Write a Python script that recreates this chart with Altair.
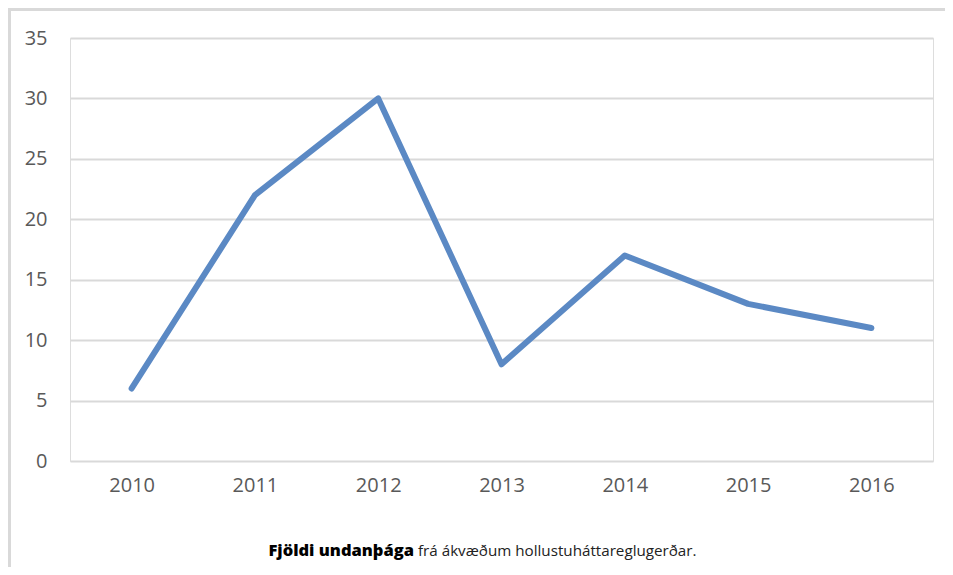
import altair as alt
import pandas as pd

years = ["2010", "2011", "2012", "2013", "2014", "2015", "2016"]
values = [6, 22, 30, 8, 17, 13, 11]
y_ticks = [0, 5, 10, 15, 20, 25, 30, 35]
caption_bold = "Fjöldi undanþága"
caption_rest = "frá ákvæðum hollustuháttareglugerðar."

df = pd.DataFrame({"year": years, "value": values})

W, H = 863, 423
PAD_L, PAD_T = 62, 30
TOTAL_W, TOTAL_H = 937, 559

x_enc = alt.X("year:O", sort=years, title=None,
              scale=alt.Scale(paddingOuter=0.5, paddingInner=0),
              axis=alt.Axis(labelAngle=0, domain=False, ticks=False, labelPadding=14,
                            labelFont="Open Sans", labelFontSize=20, labelColor="#595959"))
y_enc = alt.Y("value:Q", title=None,
              scale=alt.Scale(domain=[0, 35], nice=False),
              axis=alt.Axis(values=y_ticks, domain=False, ticks=False, labelPadding=23,
                            grid=True, gridColor="#d9d9d9", gridWidth=2,
                            labelFont="Open Sans", labelFontSize=20, labelColor="#595959"))

line = alt.Chart(df).mark_line(color="#5b89c4", strokeWidth=6, strokeCap="round",
                               strokeJoin="round").encode(x=x_enc, y=y_enc)

top_border = alt.Chart(df).mark_rule(stroke="#d9d9d9", strokeWidth=2.5, clip=False).encode(
    x=alt.value(-PAD_L), x2=alt.value(TOTAL_W - PAD_L), y=alt.value(-PAD_T + 1.5))
left_border = alt.Chart(df).mark_rule(stroke="#d9d9d9", strokeWidth=2.5, clip=False).encode(
    x=alt.value(-PAD_L + 1.5), y=alt.value(-PAD_T), y2=alt.value(TOTAL_H - PAD_T))

cap_df = pd.DataFrame({"a": [caption_bold], "b": [caption_rest]})
cap_bold = alt.Chart(cap_df).mark_text(align="right", baseline="middle", font="Open Sans",
                                       fontSize=16.5, fontWeight=800, color="#000000").encode(
    text="a:N", x=alt.value(344), y=alt.value(513))
cap_rest = alt.Chart(cap_df).mark_text(align="left", baseline="middle", font="Open Sans",
                                       fontSize=15.2, color="#222222").encode(
    text="b:N", x=alt.value(348), y=alt.value(513))

chart = alt.layer(top_border, left_border, line, cap_bold, cap_rest).properties(
    width=W, height=H,
    autosize=alt.AutoSizeParams(type="none"),
    padding={"left": PAD_L, "top": PAD_T, "right": TOTAL_W - PAD_L - W, "bottom": TOTAL_H - PAD_T - H},
).configure_view(stroke=None).configure(background="white")

chart.save("out.html", embed_options={"renderer": "svg", "actions": False})
